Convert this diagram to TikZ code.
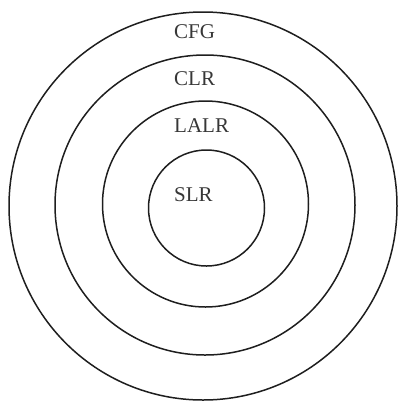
\documentclass[tikz,border=0pt]{standalone}
\usepackage{fontspec}
\setmainfont{Liberation Serif}
\usetikzlibrary{positioning}
\definecolor{ringgray}{RGB}{30,30,30}
\definecolor{labelgray}{RGB}{55,55,55}
\tikzset{
  ring/.style={draw=ringgray, line width=1.5pt, circle, inner sep=0pt},
  ring-label/.style={font=\fontsize{21}{21}\selectfont, text=labelgray,
    anchor=west, inner sep=0pt}
}
\begin{document}
\begin{tikzpicture}[x=1pt, y=-1pt]
\useasboundingbox (0,0) rectangle (401,400);
% grammar classes, outermost first
\node[ring, minimum size=388pt] (cfg) at (203,206) {};
\node[ring, minimum size=300pt] (clr) at (205,205) {};
\node[ring, minimum size=206pt] (lalr) at (205.5,204) {};
\node[ring, minimum size=116pt] (slr) at (206.5,208) {};
\node[ring-label] (cfgtext) at (174,32) {CFG};
\node[ring-label] (clrtext) at (174,79) {CLR};
\node[ring-label] (lalrtext) at (174,126) {LALR};
\node[ring-label] (slrtext) at (174,195) {SLR};
\end{tikzpicture}
\end{document}
